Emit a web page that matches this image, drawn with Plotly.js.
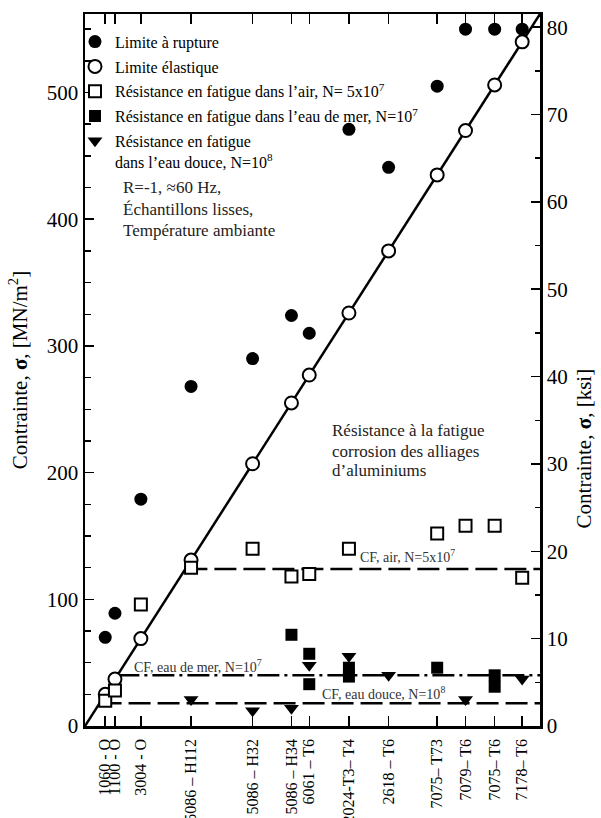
<!DOCTYPE html>
<html><head><meta charset="utf-8">
<script src="https://cdn.plot.ly/plotly-3.0.1.min.js"></script>
<style>html,body{margin:0;padding:0;background:#fff}</style>
</head><body><div id="chart" style="width:601px;height:818px"></div>
<script>
// Alloys, placed along the x axis by their yield strength (MPa)
const alloys = ["1060 - O","1100 - O","3004 - O","5086 – H112","5086 – H32","5086 – H34","6061 – T6","2024-T3– T4","2618 – T6","7075– T73","7079– T6","7075– T6","7178– T6"];
const yieldStrength   = [25, 37, 69, 131, 207, 255, 277, 326, 375, 435, 470, 506, 540];
const ruptureStrength = [70, 89, 179, 268, 290, 324, 310, 471, 441, 505, 550, 550, 550];
const airFatigue      = [20, 28, 96, 125, 140, 118, 120, 140, null, 152, 158, 158, 117];
const seaAlloys  = ["5086 – H34","6061 – T6","6061 – T6","2024-T3– T4","2024-T3– T4","7075– T73","7075– T6","7075– T6"];
const seaFatigue = [72, 57, 33, 46, 39, 46, 40, 31];
const freshAlloys  = ["5086 – H112","5086 – H32","5086 – H34","6061 – T6","2024-T3– T4","2618 – T6","7079– T6","7178– T6"];
const freshFatigue = [21, 12, 14, 48, 55, 40, 21, 37];
const cfAir = 124, cfSea = 40, cfFresh = 18;
const MPA_PER_KSI = 6.895;
const S_MAX = 562;

const pos = a => yieldStrength[alloys.indexOf(a)];
const serif = "'Liberation Serif', 'Times New Roman', Times, serif";

const traces = [
  // yield line y = x, corner to corner
  {x:[0, S_MAX], y:[0, S_MAX], type:'scatter', mode:'lines', line:{color:'#000', width:2.5}, showlegend:false, hoverinfo:'skip'},
  {x:[cfAir, S_MAX], y:[cfAir, cfAir], type:'scatter', mode:'lines', line:{color:'#000', width:2.5, dash:'22px,7px'}, showlegend:false},
  {x:[cfSea, S_MAX], y:[cfSea, cfSea], type:'scatter', mode:'lines', line:{color:'#000', width:2.5, dash:'22px,5px,3px,5px'}, showlegend:false},
  {x:[cfFresh, S_MAX], y:[cfFresh, cfFresh], type:'scatter', mode:'lines', line:{color:'#000', width:2.5, dash:'22px,7px'}, showlegend:false},
  {x: yieldStrength, y: ruptureStrength, type:'scatter', mode:'markers', name:'Limite à rupture', legendgroup:'a',
   marker:{symbol:'circle', size:13, color:'#000'}},
  {x: yieldStrength, y: yieldStrength, type:'scatter', mode:'markers', name:'Limite élastique', legendgroup:'b',
   marker:{symbol:'circle', size:13, color:'#fff', line:{color:'#000', width:2}}},
  {x: yieldStrength, y: airFatigue, type:'scatter', mode:'markers', name:"Résistance en fatigue dans l’air, N= 5x10<sup>7</sup>", legendgroup:'c',
   marker:{symbol:'square', size:12, color:'#fff', line:{color:'#000', width:2}}},
  {x: seaAlloys.map(pos), y: seaFatigue, type:'scatter', mode:'markers', name:"Résistance en fatigue dans l’eau de mer, N=10<sup>7</sup>", legendgroup:'d',
   marker:{symbol:'square', size:12, color:'#000'}},
  {x: freshAlloys.map(pos), y: freshFatigue, type:'scatter', mode:'markers', name:"Résistance en fatigue<br>dans l’eau douce, N=10<sup>8</sup>", legendgroup:'e',
   marker:{symbol:'triangle-down', size:13, color:'#000'}},
  {x:[null], y:[null], yaxis:'y2', type:'scatter', showlegend:false}
];

const ann = (x, y, text, size, color) => ({x, y, xref:'x', yref:'y', text, showarrow:false, xanchor:'left', yanchor:'middle', font:{family:serif, size, color}});

const layout = {
  width:601, height:818,
  margin:{l:85, r:61, t:14, b:92},
  paper_bgcolor:'#fff', plot_bgcolor:'#fff',
  font:{family:serif, color:'#000'},
  showlegend:true,
  legend:{x:-0.022, y:0.985, xanchor:'left', yanchor:'top', bgcolor:'rgba(0,0,0,0)', font:{family:serif, size:16, color:'#000'},
          tracegroupgap:1, valign:'top', itemwidth:30},
  xaxis:{range:[0, S_MAX], tickmode:'array', tickvals:yieldStrength, ticktext:alloys, tickangle:-90,
         ticks:'inside', ticklen:10, tickwidth:1.5, tickcolor:'#000', mirror:'ticks', showline:true, linewidth:2.5, linecolor:'#000',
         showgrid:false, zeroline:false, tickfont:{family:serif, size:16, color:'#000'}, ticklabelstandoff:4},
  yaxis:{range:[0, S_MAX], tick0:0, dtick:100, ticks:'inside', ticklen:9, tickwidth:1.5, tickcolor:'#000',
         showline:true, linewidth:2.5, linecolor:'#000', showgrid:false, zeroline:false,
         minor:{dtick:25, ticks:'inside', ticklen:6, tickwidth:1.5, tickcolor:'#000', showgrid:false},
         tickfont:{family:serif, size:21, color:'#000'},
         title:{text:'Contrainte, <b>σ</b>, [MN/m<sup>2</sup>]', font:{family:serif, size:21, color:'#000'}, standoff:14}},
  yaxis2:{overlaying:'y', side:'right', range:[0, S_MAX/MPA_PER_KSI], tick0:0, dtick:10, ticks:'inside', ticklen:9, tickwidth:1.5, tickcolor:'#000',
          showline:true, linewidth:2.5, linecolor:'#000', showgrid:false, zeroline:false,
          minor:{dtick:5, ticks:'inside', ticklen:5, tickwidth:1.5, tickcolor:'#000', showgrid:false},
          tickfont:{family:serif, size:21, color:'#000'}},
  annotations:[
    {xref:'paper', yref:'paper', x:1.097, y:0.39, text:'Contrainte, <b>σ</b>, [ksi]', textangle:-90, showarrow:false,
     xanchor:'center', yanchor:'middle', font:{family:serif, size:21, color:'#000'}},
    ann(337, 134, 'CF, air, N=5x10<sup>7</sup>', 14, '#333'),
    ann(58, 47, 'CF, eau de mer, N=10<sup>7</sup>', 14, '#333'),
    ann(290, 26, 'CF, eau douce, N=10<sup>8</sup>', 14, '#333'),
    ann(45, 425, 'R=-1, ≈60 Hz,', 17, '#222'),
    ann(45, 408, 'Échantillons lisses,', 17, '#222'),
    ann(45, 391, 'Température ambiante', 17, '#222'),
    ann(302, 233, 'Résistance à la fatigue', 17, '#222'),
    ann(302, 217, 'corrosion des alliages', 17, '#222'),
    ann(302, 202, 'd’aluminiums', 17, '#222')
  ]
};
Plotly.newPlot('chart', traces, layout, {displayModeBar:false, staticPlot:true});
</script></body></html>
